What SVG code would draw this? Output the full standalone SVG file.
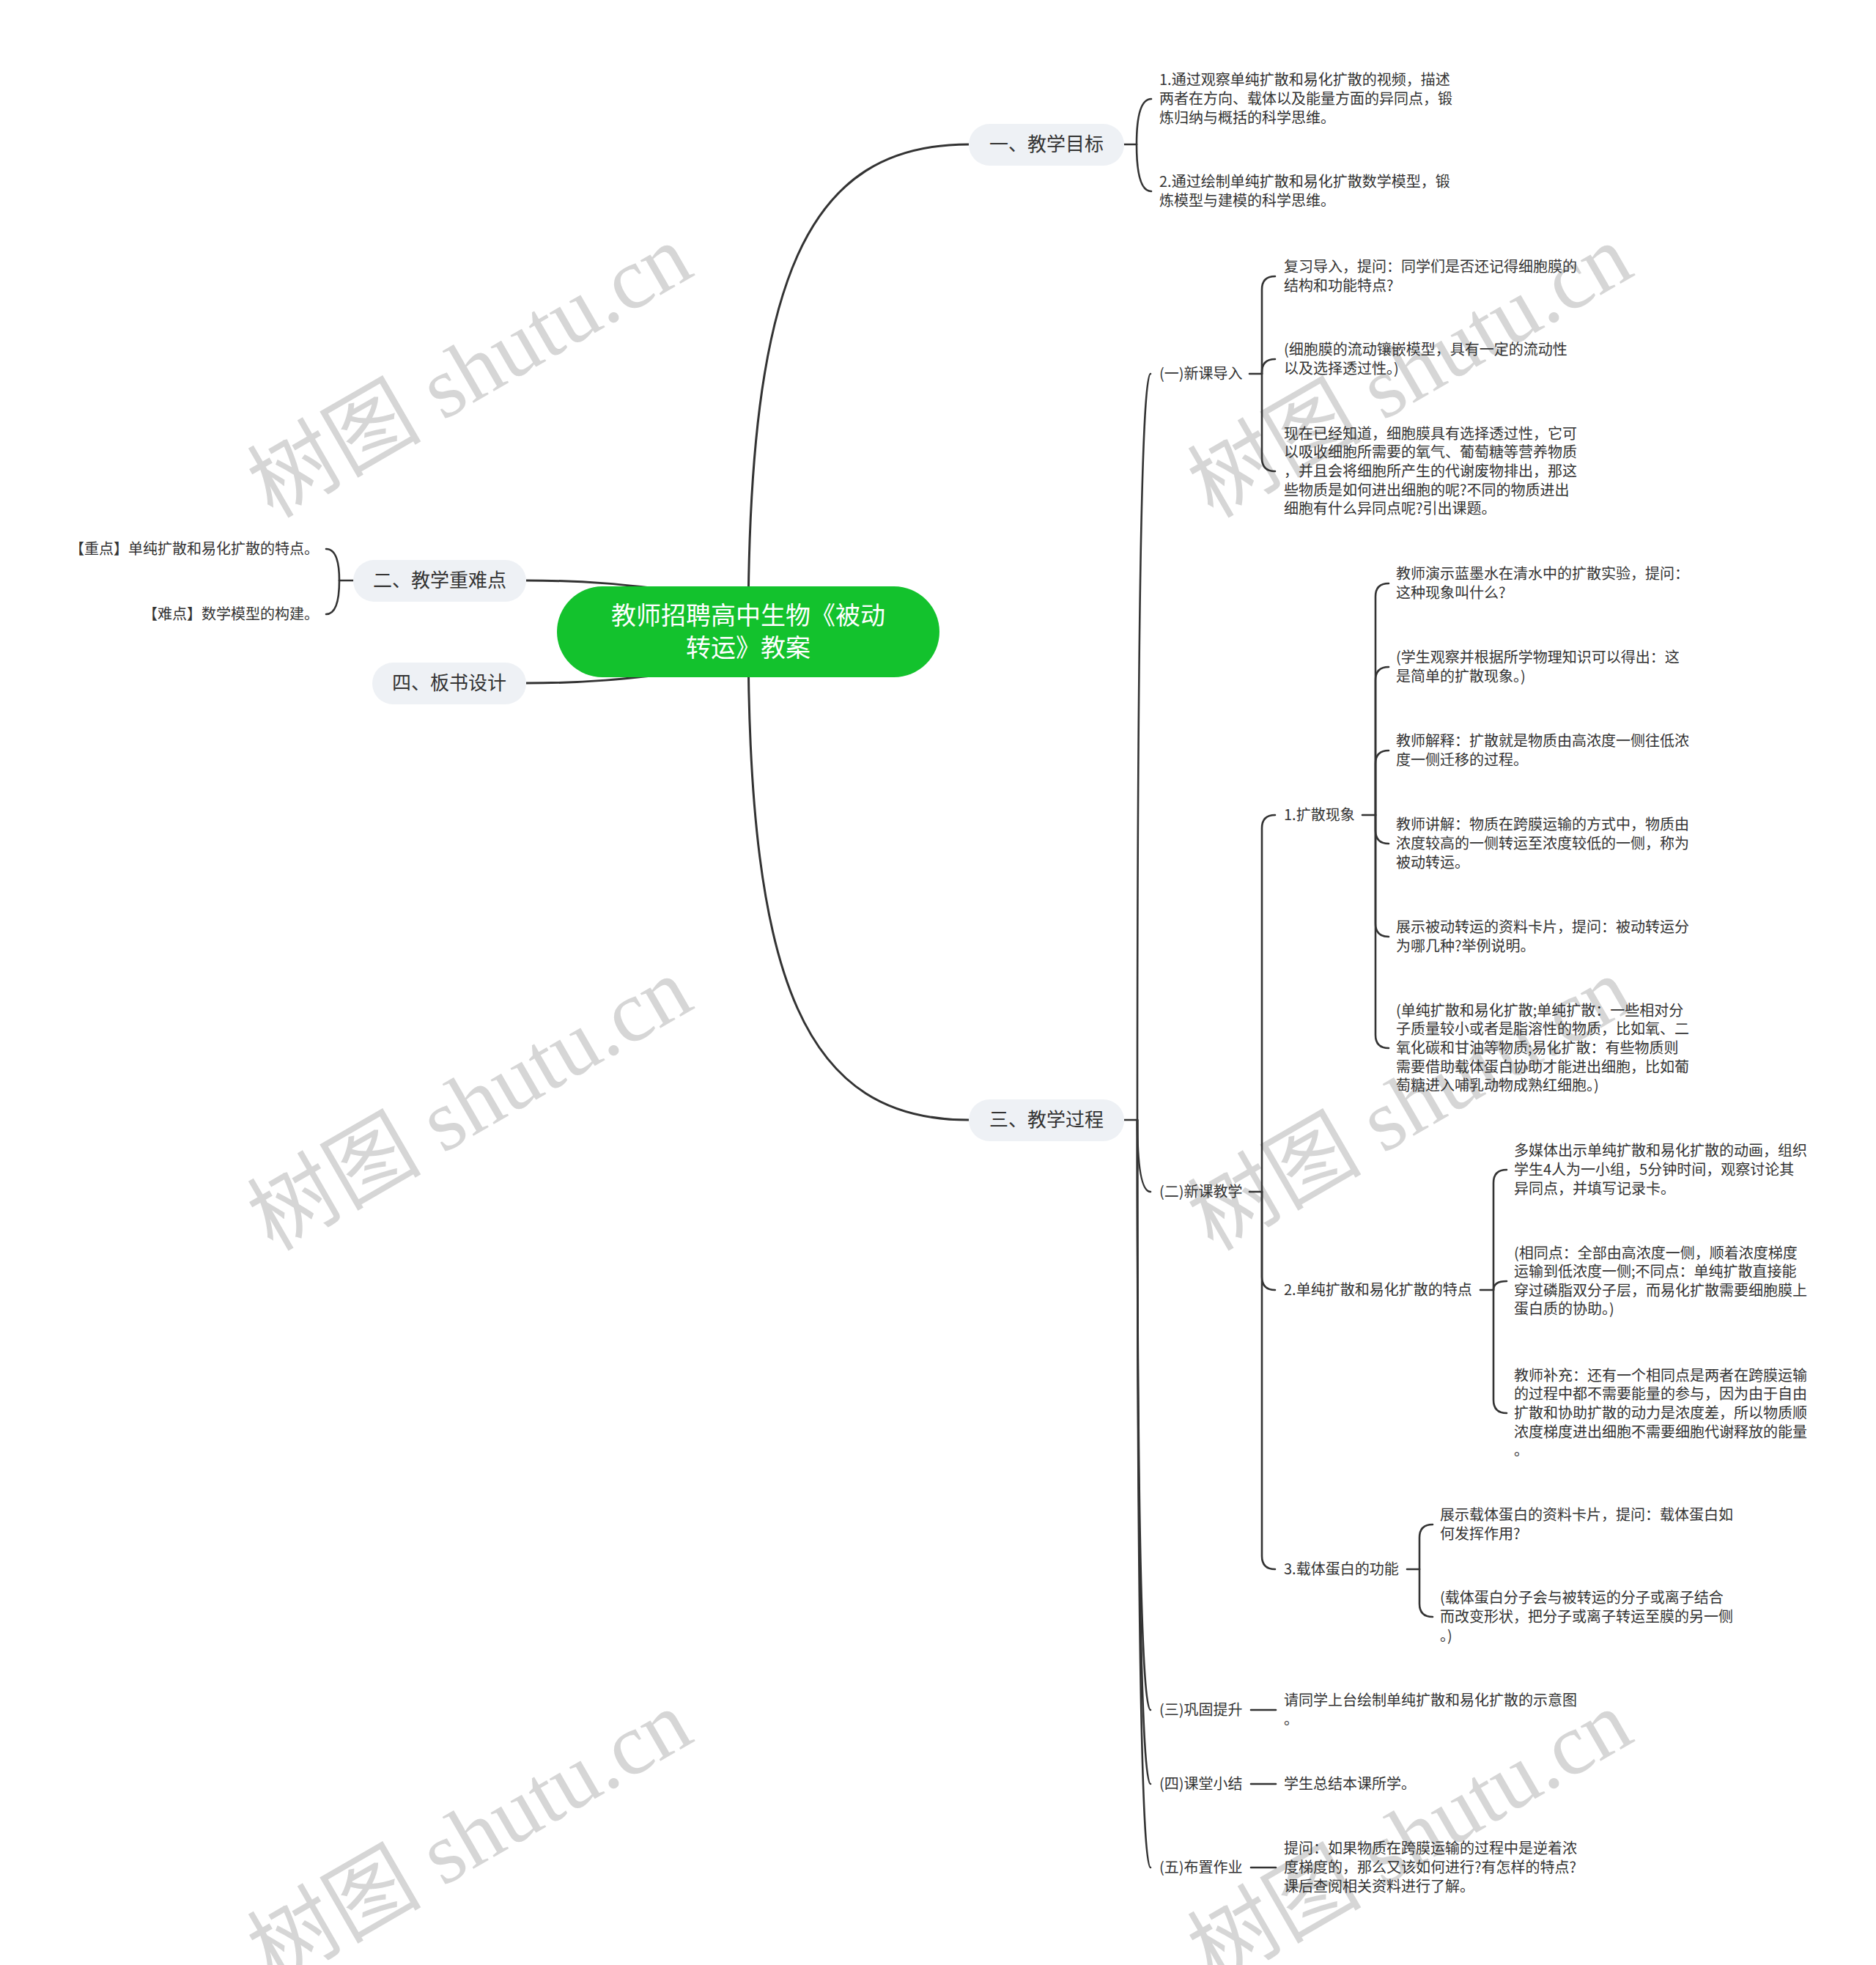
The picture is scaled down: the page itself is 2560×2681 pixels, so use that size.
<svg xmlns="http://www.w3.org/2000/svg" width="2560" height="2681" viewBox="0 0 2560 2681">
<style>
  .wm { font-family: "Liberation Serif", "Noto Sans CJK SC", serif; font-size: 119px; fill: #d6d6d6; }
  .ln { fill: none; stroke: #333333; stroke-width: 2.6; stroke-linecap: round; }
  .main { fill: none; stroke: #333333; stroke-width: 3; }
  .t { font-family: "Noto Sans CJK SC", "Noto Sans", sans-serif; font-size: 20px; fill: #333333; }
  .tr { font-family: "Noto Sans CJK SC", "Noto Sans", sans-serif; font-size: 20px; fill: #333333; text-anchor: end; }
  .b1 { fill: #eef1f5; }
  .b1t { font-family: "Noto Sans CJK SC", "Noto Sans", sans-serif; font-size: 26px; fill: #333333; text-anchor: middle; }
  .root { fill: #13c22d; }
  .roott { font-family: "Noto Sans CJK SC", "Noto Sans", sans-serif; font-size: 34px; fill: #ffffff; text-anchor: middle; }
</style>
<rect width="2560" height="2681" fill="#ffffff"/>

<g id="watermarks">
  <text class="wm" transform="translate(372,708) rotate(-30)">树图 shutu.cn</text>
  <text class="wm" transform="translate(1655,708) rotate(-30)">树图 shutu.cn</text>
  <text class="wm" transform="translate(372,1708) rotate(-30)">树图 shutu.cn</text>
  <text class="wm" transform="translate(1655,1708) rotate(-30)">树图 shutu.cn</text>
  <text class="wm" transform="translate(372,2708) rotate(-30)">树图 shutu.cn</text>
  <text class="wm" transform="translate(1655,2708) rotate(-30)">树图 shutu.cn</text>
</g>

<g id="connectors">
  <!-- root to main branches -->
  <path class="main" d="M1021,862 C1021,380 1100,197 1322,197"/>
  <path class="main" d="M1021,862 C1021,1344 1100,1528 1322,1528"/>
  <path class="main" d="M940,808 C850,797 800,792 718,792"/>
  <path class="main" d="M940,916 C850,927 800,932 718,932"/>

  <!-- 一、教学目标 -->
  <path class="ln" d="M1534,197 H1551"/>
  <path class="ln" d="M1551,197 Q1551,135 1571,135"/>
  <path class="ln" d="M1551,197 Q1551,261 1571,261"/>

  <!-- 二、教学重难点 -->
  <path class="ln" d="M482,792 H463"/>
  <path class="ln" d="M463,792 Q463,749 445,749"/>
  <path class="ln" d="M463,792 Q463,838 445,838"/>

  <!-- 三、教学过程 -->
  <path class="ln" d="M1534,1528 H1552"/>
  <path class="ln" d="M1552,1528 Q1552,510 1570,510"/>
  <path class="ln" d="M1552,1528 Q1552,1626 1570,1626"/>
  <path class="ln" d="M1552,1528 Q1552,2333 1570,2333"/>
  <path class="ln" d="M1552,1528 Q1552,2434 1570,2434"/>
  <path class="ln" d="M1552,1528 Q1552,2548 1570,2548"/>

  <!-- (一)新课导入 -->
  <path class="ln" d="M1705,510 H1722"/>
  <path class="ln" d="M1722,510 V395 Q1722,377 1740,377"/>
  <path class="ln" d="M1722,510 V508 Q1722,490 1740,490"/>
  <path class="ln" d="M1722,510 V625 Q1722,643 1740,643"/>

  <!-- (二)新课教学 -->
  <path class="ln" d="M1705,1626 H1722"/>
  <path class="ln" d="M1722,1626 V1130 Q1722,1112 1740,1112"/>
  <path class="ln" d="M1722,1626 V1742 Q1722,1760 1740,1760"/>
  <path class="ln" d="M1722,1626 V2123 Q1722,2141 1740,2141"/>

  <!-- 1.扩散现象 -->
  <path class="ln" d="M1859,1112 H1877"/>
  <path class="ln" d="M1877,1112 V814 Q1877,796 1895,796"/>
  <path class="ln" d="M1877,1112 V928 Q1877,910 1895,910"/>
  <path class="ln" d="M1877,1112 V1042 Q1877,1024 1895,1024"/>
  <path class="ln" d="M1877,1112 V1133 Q1877,1151 1895,1151"/>
  <path class="ln" d="M1877,1112 V1260 Q1877,1278 1895,1278"/>
  <path class="ln" d="M1877,1112 V1412 Q1877,1430 1895,1430"/>

  <!-- 2.单纯扩散和易化扩散的特点 -->
  <path class="ln" d="M2020,1760 H2038"/>
  <path class="ln" d="M2038,1760 V1614 Q2038,1596 2056,1596"/>
  <path class="ln" d="M2038,1760 Q2038,1748 2056,1748"/>
  <path class="ln" d="M2038,1760 V1910 Q2038,1928 2056,1928"/>

  <!-- 3.载体蛋白的功能 -->
  <path class="ln" d="M1920,2141 H1937"/>
  <path class="ln" d="M1937,2141 V2098 Q1937,2080 1955,2080"/>
  <path class="ln" d="M1937,2141 V2188 Q1937,2206 1955,2206"/>

  <!-- (三)(四)(五) -->
  <path class="ln" d="M1707,2333 H1741"/>
  <path class="ln" d="M1707,2434 H1741"/>
  <path class="ln" d="M1707,2548 H1741"/>
</g>

<g id="root">
  <rect class="root" x="760" y="800" width="522" height="124" rx="62" ry="62"/>
  <text class="roott" x="1021" y="852">教师招聘高中生物《被动</text>
  <text class="roott" x="1021" y="896">转运》教案</text>
</g>

<g id="b-goal">
  <rect class="b1" x="1322" y="169" width="212" height="57" rx="28.5"/>
  <text class="b1t" x="1428" y="206">一、教学目标</text>
</g>
<g id="b-key">
  <rect class="b1" x="482" y="764" width="236" height="57" rx="28.5"/>
  <text class="b1t" x="600" y="801">二、教学重难点</text>
</g>
<g id="b-board">
  <rect class="b1" x="508" y="904" width="210" height="57" rx="28.5"/>
  <text class="b1t" x="613" y="941">四、板书设计</text>
</g>
<g id="b-process">
  <rect class="b1" x="1322" y="1500" width="212" height="57" rx="28.5"/>
  <text class="b1t" x="1428" y="1537">三、教学过程</text>
</g>

<g id="goal-1">
  <text class="t" x="1582"><tspan x="1582" y="116.4">1.通过观察单纯扩散和易化扩散的视频，描述</tspan><tspan x="1582" y="142">两者在方向、载体以及能量方面的异同点，锻</tspan><tspan x="1582" y="167.6">炼归纳与概括的科学思维。</tspan></text>
</g>
<g id="goal-2">
  <text class="t" x="1582"><tspan x="1582" y="255.2">2.通过绘制单纯扩散和易化扩散数学模型，锻</tspan><tspan x="1582" y="280.8">炼模型与建模的科学思维。</tspan></text>
</g>

<g id="key-1"><text class="tr" x="435" y="756">【重点】单纯扩散和易化扩散的特点。</text></g>
<g id="key-2"><text class="tr" x="435" y="845">【难点】数学模型的构建。</text></g>

<g id="p1"><text class="t" x="1582" y="517">(一)新课导入</text></g>
<g id="p1-a">
  <text class="t"><tspan x="1752" y="371.2">复习导入，提问：同学们是否还记得细胞膜的</tspan><tspan x="1752" y="396.8">结构和功能特点?</tspan></text>
</g>
<g id="p1-b">
  <text class="t"><tspan x="1752" y="484.2">(细胞膜的流动镶嵌模型，具有一定的流动性</tspan><tspan x="1752" y="509.8">以及选择透过性。)</tspan></text>
</g>
<g id="p1-c">
  <text class="t"><tspan x="1752" y="598.8">现在已经知道，细胞膜具有选择透过性，它可</tspan><tspan x="1752" y="624.4">以吸收细胞所需要的氧气、葡萄糖等营养物质</tspan><tspan x="1752" y="650">，并且会将细胞所产生的代谢废物排出，那这</tspan><tspan x="1752" y="675.6">些物质是如何进出细胞的呢?不同的物质进出</tspan><tspan x="1752" y="701.2">细胞有什么异同点呢?引出课题。</tspan></text>
</g>

<g id="p2"><text class="t" x="1582" y="1633">(二)新课教学</text></g>

<g id="p2-1"><text class="t" x="1752" y="1119">1.扩散现象</text></g>
<g id="p2-1-a">
  <text class="t"><tspan x="1905" y="790.2">教师演示蓝墨水在清水中的扩散实验，提问：</tspan><tspan x="1905" y="815.8">这种现象叫什么?</tspan></text>
</g>
<g id="p2-1-b">
  <text class="t"><tspan x="1905" y="904.2">(学生观察并根据所学物理知识可以得出：这</tspan><tspan x="1905" y="929.8">是简单的扩散现象。)</tspan></text>
</g>
<g id="p2-1-c">
  <text class="t"><tspan x="1905" y="1018.2">教师解释：扩散就是物质由高浓度一侧往低浓</tspan><tspan x="1905" y="1043.8">度一侧迁移的过程。</tspan></text>
</g>
<g id="p2-1-d">
  <text class="t"><tspan x="1905" y="1132.4">教师讲解：物质在跨膜运输的方式中，物质由</tspan><tspan x="1905" y="1158">浓度较高的一侧转运至浓度较低的一侧，称为</tspan><tspan x="1905" y="1183.6">被动转运。</tspan></text>
</g>
<g id="p2-1-e">
  <text class="t"><tspan x="1905" y="1272.2">展示被动转运的资料卡片，提问：被动转运分</tspan><tspan x="1905" y="1297.8">为哪几种?举例说明。</tspan></text>
</g>
<g id="p2-1-f">
  <text class="t"><tspan x="1905" y="1385.8">(单纯扩散和易化扩散;单纯扩散：一些相对分</tspan><tspan x="1905" y="1411.4">子质量较小或者是脂溶性的物质，比如氧、二</tspan><tspan x="1905" y="1437">氧化碳和甘油等物质;易化扩散：有些物质则</tspan><tspan x="1905" y="1462.6">需要借助载体蛋白协助才能进出细胞，比如葡</tspan><tspan x="1905" y="1488.2">萄糖进入哺乳动物成熟红细胞。)</tspan></text>
</g>

<g id="p2-2"><text class="t" x="1752" y="1767">2.单纯扩散和易化扩散的特点</text></g>
<g id="p2-2-a">
  <text class="t"><tspan x="2066" y="1577.4">多媒体出示单纯扩散和易化扩散的动画，组织</tspan><tspan x="2066" y="1603">学生4人为一小组，5分钟时间，观察讨论其</tspan><tspan x="2066" y="1628.6">异同点，并填写记录卡。</tspan></text>
</g>
<g id="p2-2-b">
  <text class="t"><tspan x="2066" y="1716.6">(相同点：全部由高浓度一侧，顺着浓度梯度</tspan><tspan x="2066" y="1742.2">运输到低浓度一侧;不同点：单纯扩散直接能</tspan><tspan x="2066" y="1767.8">穿过磷脂双分子层，而易化扩散需要细胞膜上</tspan><tspan x="2066" y="1793.4">蛋白质的协助。)</tspan></text>
</g>
<g id="p2-2-c">
  <text class="t"><tspan x="2066" y="1883.8">教师补充：还有一个相同点是两者在跨膜运输</tspan><tspan x="2066" y="1909.4">的过程中都不需要能量的参与，因为由于自由</tspan><tspan x="2066" y="1935">扩散和协助扩散的动力是浓度差，所以物质顺</tspan><tspan x="2066" y="1960.6">浓度梯度进出细胞不需要细胞代谢释放的能量</tspan><tspan x="2066" y="1986.2">。</tspan></text>
</g>

<g id="p2-3"><text class="t" x="1752" y="2148">3.载体蛋白的功能</text></g>
<g id="p2-3-a">
  <text class="t"><tspan x="1965" y="2074.2">展示载体蛋白的资料卡片，提问：载体蛋白如</tspan><tspan x="1965" y="2099.8">何发挥作用?</tspan></text>
</g>
<g id="p2-3-b">
  <text class="t"><tspan x="1965" y="2187.4">(载体蛋白分子会与被转运的分子或离子结合</tspan><tspan x="1965" y="2213">而改变形状，把分子或离子转运至膜的另一侧</tspan><tspan x="1965" y="2238.6">。)</tspan></text>
</g>

<g id="p3"><text class="t" x="1582" y="2340">(三)巩固提升</text></g>
<g id="p3-a">
  <text class="t"><tspan x="1752" y="2327.2">请同学上台绘制单纯扩散和易化扩散的示意图</tspan><tspan x="1752" y="2352.8">。</tspan></text>
</g>
<g id="p4"><text class="t" x="1582" y="2441">(四)课堂小结</text></g>
<g id="p4-a"><text class="t" x="1752" y="2441">学生总结本课所学。</text></g>
<g id="p5"><text class="t" x="1582" y="2555">(五)布置作业</text></g>
<g id="p5-a">
  <text class="t"><tspan x="1752" y="2529.4">提问：如果物质在跨膜运输的过程中是逆着浓</tspan><tspan x="1752" y="2555">度梯度的，那么又该如何进行?有怎样的特点?</tspan><tspan x="1752" y="2580.6">课后查阅相关资料进行了解。</tspan></text>
</g>
</svg>
